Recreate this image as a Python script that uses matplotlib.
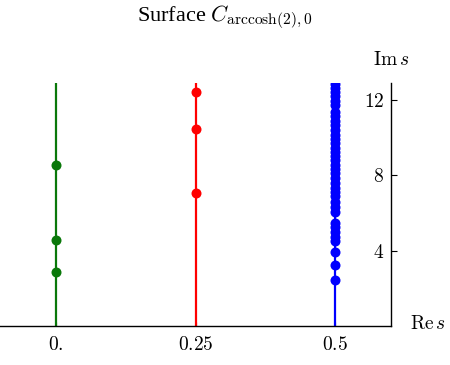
import matplotlib
matplotlib.use("Agg")
import matplotlib.pyplot as plt

plt.rcParams['mathtext.fontset'] = 'cm'
plt.rcParams['font.family'] = 'Liberation Serif'

# real parts of the three vertical lines and their colours
re_parts = [0.0, 0.25, 0.5]
colors = ['#0a780a', '#ff0000', '#0000ff']

# imaginary parts of the points on each line
green_im = [2.87, 4.55, 8.53]
red_im = [7.04, 10.43, 12.41]
blue_im = [2.45, 3.25, 3.96, 4.5, 4.75, 5.0, 5.25, 5.5,
           6.05, 6.3, 6.6, 6.9, 7.12,
           7.35, 7.6, 7.85, 8.1, 8.35, 8.55, 8.8, 9.0, 9.25, 9.45, 9.7, 9.9, 10.15,
           10.4, 10.65, 10.9, 11.15, 11.35, 11.75, 11.95, 12.2, 12.4, 12.65, 12.85]
im_parts = [green_im, red_im, blue_im]

xticks = [0.0, 0.25, 0.5]
xtick_labels = [r'$0.$', r'$0.25$', r'$0.5$']
yticks = [4, 8, 12]
ytick_labels = [r'$4$', r'$8$', r'$12$']

fig = plt.figure(figsize=(4.5, 3.65), dpi=100)
ax = fig.add_axes([0.0, 0.106, 0.869, 0.667])

for re, ims, c in zip(re_parts, im_parts, colors):
    ax.axvline(re, color=c, lw=1.6, zorder=2)
    ax.plot([re] * len(ims), ims, 'o', color=c, ms=7.2, mec='none', zorder=3)

ax.set_xlim(-0.1, 0.6)
ax.set_ylim(0, 12.9)

ax.spines['top'].set_visible(False)
ax.spines['right'].set_visible(False)
ax.spines['left'].set_position(('axes', 1.0))
ax.spines['left'].set_linewidth(1.0)
ax.spines['bottom'].set_linewidth(1.0)

ax.set_xticks(xticks)
ax.set_xticklabels(xtick_labels, fontsize=14)
ax.set_yticks(yticks)
ax.set_yticklabels(ytick_labels, fontsize=14)
ax.tick_params(axis='x', direction='in', length=3, pad=7)
ax.tick_params(axis='y', direction='in', length=4, pad=5)

fig.text(0.5, 1 - 17 / 365, r'Surface $C_{\mathrm{arccosh}(2),0}$',
         ha='center', va='center', fontsize=16)
fig.text(391 / 450, 1 - 60 / 365, r'$\mathrm{Im}\,s$', ha='center', va='center', fontsize=14)
fig.text(410 / 450, 1 - 324 / 365, r'$\mathrm{Re}\,s$', ha='left', va='center', fontsize=14)

fig.savefig('out.png', dpi=100)
